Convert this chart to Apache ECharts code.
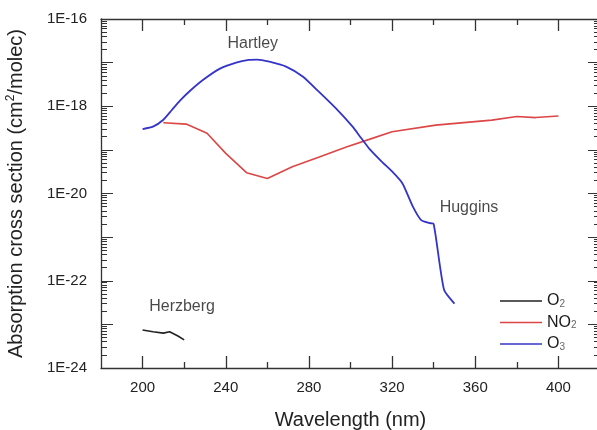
<!DOCTYPE html>
<html>
<head>
<meta charset="utf-8">
<script src="https://cdn.jsdelivr.net/npm/echarts@6/dist/echarts.min.js"></script>
<style>
  html, body { margin: 0; padding: 0; background: #fff; }
  #chart { width: 597px; height: 430px; }
</style>
</head>
<body>
<div id="chart"></div>
<script>
// wavelengths (nm) and cross sections (cm2/molec)
const o3Wavelength = [200, 205, 210, 214, 218, 223, 229, 237, 245, 251, 255, 261, 269, 277, 285, 293, 301, 305, 309, 315, 320, 325, 330, 334, 338, 340, 345, 350];
const o3Cross = [3.0e-19, 3.4e-19, 4.9e-19, 8.1e-19, 1.35e-18, 2.3e-18, 4.0e-18, 7.2e-18, 1.0e-17, 1.15e-17, 1.17e-17, 1.05e-17, 8.1e-18, 4.8e-18, 2.1e-18, 8.9e-19, 3.4e-19, 1.9e-19, 1.07e-19, 5.4e-20, 3.2e-20, 1.7e-20, 5.0e-21, 2.45e-21, 2.1e-21, 2.0e-21, 6.2e-23, 3.0e-23];

const no2Wavelength = [210, 221, 231, 240, 250, 260, 272, 285, 298, 309, 320, 341, 368, 380, 389, 400];
const no2Cross = [4.2e-19, 3.9e-19, 2.4e-19, 8.3e-20, 3.0e-20, 2.2e-20, 4.1e-20, 6.9e-20, 1.17e-19, 1.74e-19, 2.6e-19, 3.7e-19, 4.8e-19, 5.8e-19, 5.5e-19, 6.0e-19];

const o2Wavelength = [200, 205, 210, 213, 217, 220];
const o2Cross = [7.4e-24, 6.8e-24, 6.3e-24, 6.8e-24, 5.4e-24, 4.4e-24];

const bandNames = ["Hartley", "Huggins", "Herzberg"];
const bandWavelength = [253, 357, 219];
const bandCross = [2.8e-17, 4.7e-21, 2.5e-23];

const xMajorTicks = [200, 240, 280, 320, 360, 400];
const xMinorTicks = [220, 260, 300, 340, 380];
const yDecades = [-24, -23, -22, -21, -20, -19, -18, -17, -16];

// log minor ticks: 2..9 x 10^n
const yMinorTicks = [];
yDecades.slice(0, -1).forEach((e) => {
  for (let k = 2; k <= 9; k++) yMinorTicks.push(e + Math.log10(k));
});

const FONT = "'Liberation Sans', Arial, sans-serif";
const AXIS_COLOR = "#333";

const toPoints = (xs, ys) => xs.map((x, i) => [x, Math.log10(ys[i])]);

const chart = echarts.init(document.getElementById("chart"));

const xBase = (position, ticks, isMain) => ({
  type: "value",
  position: position,
  min: 180,
  max: 420,
  axisLine: { show: isMain, lineStyle: { color: AXIS_COLOR, width: 1.3 } },
  axisTick: {
    inside: true,
    customValues: ticks,
    length: ticks === xMajorTicks ? 12 : 6,
    lineStyle: { color: AXIS_COLOR, width: 1.3 },
  },
  axisLabel: { show: false },
  splitLine: { show: false },
});

const yBase = (position, ticks, isMain) => ({
  type: "value",
  position: position,
  min: -24,
  max: -16,
  interval: 1,
  axisLine: { show: isMain, lineStyle: { color: AXIS_COLOR, width: 1.3 } },
  axisTick: {
    inside: true,
    customValues: ticks,
    length: ticks === yDecades ? 12 : 6,
    lineStyle: { color: AXIS_COLOR, width: 1 },
  },
  axisLabel: { show: false },
  splitLine: { show: false },
});

const xMain = xBase("bottom", xMajorTicks, true);
xMain.axisLabel = {
  show: true,
  customValues: xMajorTicks,
  margin: 12,
  fontSize: 15,
  fontFamily: FONT,
  color: "#222",
};
xMain.name = "Wavelength (nm)";
xMain.nameLocation = "middle";
xMain.nameGap = 42;
xMain.nameTextStyle = { fontSize: 20, fontFamily: FONT, color: "#222" };

const yMain = yBase("left", yDecades, true);
yMain.axisLabel = {
  show: true,
  margin: 14,
  fontSize: 15,
  fontFamily: FONT,
  color: "#222",
  formatter: (v) => (Math.round(v) % 2 === 0 ? "1E" + Math.round(v) : ""),
};
yMain.name = "Absorption cross section (cm{sup|2}/molec)";
yMain.nameLocation = "middle";
yMain.nameGap = 74;
yMain.nameTextStyle = {
  fontSize: 20,
  fontFamily: FONT,
  color: "#222",
  lineHeight: 22,
  rich: {
    sup: { fontSize: 12, fontFamily: FONT, color: "#222", verticalAlign: "top", lineHeight: 12 },
  },
};

const option = {
  animation: false,
  grid: { left: 101, top: 19, width: 499, height: 349, outerBoundsMode: "none" },
  xAxis: [
    xMain,
    xBase("bottom", xMinorTicks, false),
    xBase("top", xMajorTicks, true),
    xBase("top", xMinorTicks, false),
  ],
  yAxis: [
    yMain,
    yBase("left", yMinorTicks, false),
    yBase("right", yDecades, true),
    yBase("right", yMinorTicks, false),
  ],
  legend: {
    orient: "vertical",
    left: 495,
    top: 288,
    icon: "rect",
    itemWidth: 42,
    itemHeight: 1.6,
    itemGap: 5.5,
    data: ["O2", "NO2", "O3"],
    formatter: (name) => name.replace(/(\d)$/, "{sub|$1}"),
    textStyle: {
      fontSize: 16,
      fontFamily: FONT,
      color: "#1a1a1a",
      lineHeight: 16,
      rich: {
        sub: { fontSize: 10, fontFamily: FONT, color: "#666", verticalAlign: "bottom", lineHeight: 10 },
      },
    },
  },
  series: [
    {
      name: "O2",
      type: "line",
      symbol: "none",
      lineStyle: { color: "#222", width: 1.6 },
      itemStyle: { color: "#222" },
      data: toPoints(o2Wavelength, o2Cross),
    },
    {
      name: "NO2",
      type: "line",
      symbol: "none",
      lineStyle: { color: "#dc4646", width: 1.6 },
      itemStyle: { color: "#dc4646" },
      data: toPoints(no2Wavelength, no2Cross),
    },
    {
      name: "O3",
      type: "line",
      symbol: "none",
      smooth: 0.2,
      lineStyle: { color: "#3434c8", width: 1.8 },
      itemStyle: { color: "#3434c8" },
      data: toPoints(o3Wavelength, o3Cross),
    },
    {
      // band labels
      type: "scatter",
      symbolSize: 0,
      silent: true,
      label: {
        show: true,
        position: "inside",
        fontSize: 16,
        fontFamily: FONT,
        color: "#1a1a1a",
        formatter: (p) => p.name,
      },
      data: bandNames.map((n, i) => ({ name: n, value: [bandWavelength[i], Math.log10(bandCross[i])] })),
    },
  ],
};

chart.setOption(option);
</script>
</body>
</html>
